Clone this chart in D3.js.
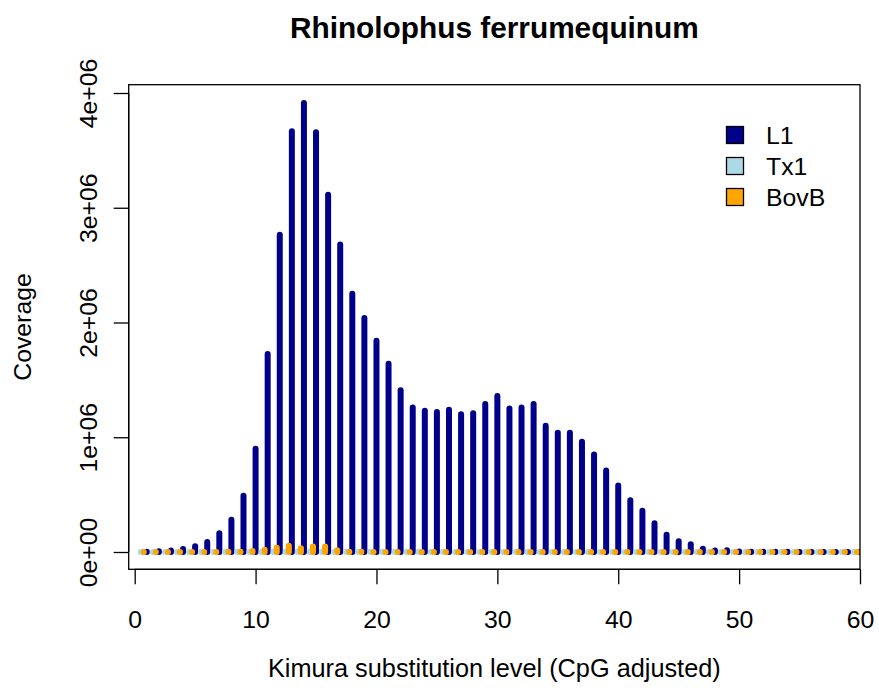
<!DOCTYPE html>
<html>
<head>
<meta charset="utf-8">
<script src="https://cdn.jsdelivr.net/npm/d3@7/dist/d3.min.js"></script>
<style>
  html, body { margin: 0; padding: 0; background: #fff; }
  svg text { font-family: "Liberation Sans", Arial, Helvetica, sans-serif; fill: #000; }
</style>
</head>
<body>
<svg id="chart" width="879" height="696"></svg>
<script>
// Kimura divergence bins (CpG adjusted), one per integer level
const bins = d3.range(1, 61);

// Genome coverage (bp) per bin for each repeat family
const L1 = [
  3000, 6000, 12000, 26000, 50000, 88000, 163000, 280000, 490000, 900000,
  1725000, 2765000, 3666000, 3912000, 3657000, 3114000, 2679000, 2250000, 2040000, 1840000,
  1640000, 1410000, 1260000, 1230000, 1220000, 1240000, 1200000, 1210000, 1290000, 1360000,
  1250000, 1260000, 1290000, 1100000, 1040000, 1040000, 960000, 850000, 710000, 580000,
  450000, 360000, 250000, 150000, 93000, 67000, 29000, 12000, 15000, 5000,
  3000, 2000, 2000, 1500, 1000, 1000, 800, 500, 500, 300
];
const Tx1 = [
  200, 200, 300, 300, 400, 500, 600, 800, 1200, 2000,
  3000, 4000, 5000, 5000, 4500, 4000, 3000, 2500, 2000, 1800,
  1600, 1400, 1200, 1200, 1100, 1100, 1000, 1000, 1000, 1000,
  900, 900, 900, 800, 800, 700, 600, 500, 400, 300,
  300, 200, 200, 200, 100, 100, 100, 100, 100, 100,
  100, 100, 100, 100, 100, 100, 100, 100, 100, 100
];
const BovB = [
  500, 500, 600, 700, 800, 900, 1000, 1500, 3000, 9000,
  20000, 38000, 55000, 32000, 47000, 47000, 15000, 3000, 1500, 1000,
  1000, 900, 800, 800, 700, 700, 600, 600, 600, 500,
  500, 500, 500, 400, 400, 400, 300, 300, 300, 300,
  200, 200, 200, 200, 200, 100, 100, 100, 100, 100,
  100, 100, 100, 100, 100, 100, 100, 100, 100, 100
];

const xTicks = [0, 10, 20, 30, 40, 50, 60];
const yTicks = [0, 1e6, 2e6, 3e6, 4e6];
const yTickLabels = ["0e+00", "1e+06", "2e+06", "3e+06", "4e+06"];

// Series: name, values, colour, horizontal offset of each bin
const series = [
  { name: "L1",   values: L1,   color: "#00008B", offset: 0 },
  { name: "Tx1",  values: Tx1,  color: "#ADD8E6", offset: -0.5 },
  { name: "BovB", values: BovB, color: "#FFA500", offset: -0.25 }
];

const svg = d3.select("#chart");
const box = { left: 128.7, right: 860, top: 84.7, bottom: 569.3 };
const baseFont = 24.8;

const x = d3.scaleLinear().domain([0, 60]).range([134.7, 860]);
const y = d3.scaleLinear().domain([0, 4e6]).range([552, 93]);

// clip the spikes to the plotting region
svg.append("defs").append("clipPath").attr("id", "plotClip")
  .append("rect")
  .attr("x", box.left).attr("y", box.top)
  .attr("width", box.right - box.left).attr("height", box.bottom - box.top);

const plot = svg.append("g").attr("clip-path", "url(#plotClip)");

series.forEach(s => {
  plot.append("g")
    .selectAll("line")
    .data(bins.map((b, i) => ({ b: b + s.offset, v: s.values[i] })))
    .join("line")
    .attr("x1", d => x(d.b)).attr("x2", d => x(d.b))
    .attr("y1", y(0)).attr("y2", d => y(d.v))
    .attr("stroke", s.color)
    .attr("stroke-width", 6)
    .attr("stroke-linecap", "round");
});

// frame
svg.append("rect")
  .attr("x", box.left).attr("y", box.top)
  .attr("width", box.right - box.left).attr("height", box.bottom - box.top)
  .attr("fill", "none").attr("stroke", "#000").attr("stroke-width", 1.3);

// x axis
const xAxis = d3.axisBottom(x).tickValues(xTicks).tickSize(15).tickPadding(0).tickFormat(d3.format("d"));
const gx = svg.append("g").attr("transform", `translate(0,${box.bottom})`).call(xAxis);
gx.select(".domain").attr("stroke-width", 1.3).attr("d", `M${x(0)},0H${x(60)}`);
gx.selectAll(".tick line").attr("stroke-width", 1.3);
gx.selectAll(".tick text")
  .attr("font-size", baseFont).attr("font-family", "Liberation Sans, Arial, sans-serif")
  .attr("dy", null).attr("y", 628 - box.bottom).attr("fill", "#000");

// y axis
const yAxis = d3.axisLeft(y).tickValues(yTicks).tickSize(15).tickFormat((d, i) => yTickLabels[i]);
const gy = svg.append("g").attr("transform", `translate(${box.left},0)`).call(yAxis);
gy.select(".domain").attr("stroke-width", 1.3).attr("d", `M0,${y(0)}V${y(4e6)}`);
gy.selectAll(".tick line").attr("stroke-width", 1.3);
gy.selectAll(".tick text")
  .attr("font-size", baseFont).attr("font-family", "Liberation Sans, Arial, sans-serif")
  .attr("x", null).attr("dy", null)
  .attr("text-anchor", "middle")
  .attr("transform", `translate(${97 - box.left},0) rotate(-90)`)
  .attr("fill", "#000");

// titles
svg.append("text")
  .attr("x", (box.left + box.right) / 2).attr("y", 38)
  .attr("text-anchor", "middle").attr("font-size", 29.8).attr("font-weight", "bold")
  .text("Rhinolophus ferrumequinum");

svg.append("text")
  .attr("x", (box.left + box.right) / 2).attr("y", 677)
  .attr("text-anchor", "middle").attr("font-size", 25.3)
  .text("Kimura substitution level (CpG adjusted)");

svg.append("text")
  .attr("transform", `translate(31,${(box.top + box.bottom) / 2}) rotate(-90)`)
  .attr("text-anchor", "middle").attr("font-size", baseFont)
  .text("Coverage");

// legend
const legendRows = [135, 166, 197];
const legend = svg.append("g");
series.forEach((s, i) => {
  legend.append("rect")
    .attr("x", 726.5).attr("y", legendRows[i] - 8.5)
    .attr("width", 17).attr("height", 17)
    .attr("fill", s.color).attr("stroke", "#000").attr("stroke-width", 1.3);
  legend.append("text")
    .attr("x", 766).attr("y", legendRows[i] + 8.7)
    .attr("font-size", baseFont)
    .text(s.name);
});
</script>
</body>
</html>
